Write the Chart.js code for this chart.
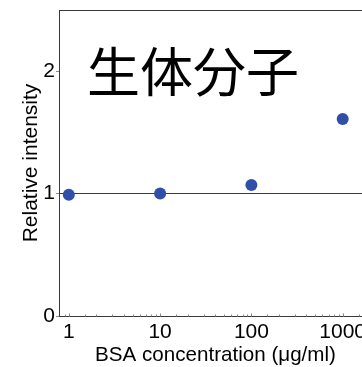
<!DOCTYPE html>
<html>
<head>
<meta charset="utf-8">
<script src="https://cdn.jsdelivr.net/npm/chart.js@4/dist/chart.umd.min.js"></script>
<style>
  html, body { margin: 0; padding: 0; background: #fff; overflow: hidden; }
  #wrap { width: 378px; height: 367px; }
</style>
</head>
<body>
<div id="wrap"><canvas id="c" width="378" height="367"></canvas></div>
<script>
// BSA concentration (µg/ml) and relative intensity
const concentrations = [1, 10, 100, 1000];
const intensities = [0.99, 1.0, 1.07, 1.61];
const yTickValues = [0, 1, 2];
const panelLabel = '生体分子';
const xTitle = 'BSA concentration (μg/ml)';
const yTitle = 'Relative intensity';

const FONT = "'Liberation Sans', Arial, sans-serif";
const AXIS = '#3a3a3a';

// frame top edge, inward minor ticks on the log axis, and the panel label
const extras = {
  id: 'extras',
  afterDraw(chart) {
    const { ctx, chartArea: a, scales: { x } } = chart;
    ctx.save();
    ctx.strokeStyle = AXIS;
    ctx.lineWidth = 1;
    ctx.beginPath();
    ctx.moveTo(a.left, Math.round(a.top) + 0.5);
    ctx.lineTo(chart.width, Math.round(a.top) + 0.5);
    ctx.stroke();

    ctx.strokeStyle = '#888';
    const yb = Math.round(a.bottom) + 0.5;
    x.ticks.forEach(t => {
      const px = Math.round(x.getPixelForValue(t.value)) + 0.5;
      if (px <= a.left + 1 || px >= a.right) return;
      const major = Math.abs(Math.log10(t.value) - Math.round(Math.log10(t.value))) < 1e-9;
      ctx.beginPath();
      ctx.moveTo(px, yb);
      ctx.lineTo(px, yb - (major ? 3 : 2));
      ctx.stroke();
    });

    ctx.fillStyle = '#000';
    ctx.font = "53px 'Noto Sans CJK JP', sans-serif";
    ctx.textAlign = 'center';
    ctx.textBaseline = 'middle';
    ctx.fillText(panelLabel, 193, 72);
    ctx.restore();
  }
};

new Chart(document.getElementById('c'), {
  type: 'scatter',
  data: {
    datasets: [{
      data: concentrations.map((c, i) => ({ x: c, y: intensities[i] })),
      backgroundColor: '#2f4fa8',
      borderColor: '#2f4fa8',
      pointRadius: 6,
      borderWidth: 0
    }]
  },
  options: {
    responsive: false,
    animation: false,
    layout: { padding: { top: 10, right: 0, left: 0, bottom: 0 } },
    plugins: { legend: { display: false }, tooltip: { enabled: false } },
    scales: {
      x: {
        type: 'logarithmic',
        min: 0.781,
        max: 2094,
        afterFit(s) { s.height = 51; s.paddingLeft = 0; s.paddingRight = 0; },
        border: { display: true, color: AXIS, width: 1 },
        grid: { display: false, drawTicks: false },
        ticks: {
          autoSkip: false,
          maxRotation: 0,
          padding: 4,
          color: '#000',
          font: { family: FONT, size: 21 },
          callback(v) {
            return concentrations.includes(v) ? String(v) : '';
          }
        },
        title: {
          display: true,
          text: xTitle,
          color: '#000',
          font: { family: FONT, size: 20.6 },
          padding: { top: 0, bottom: -1 }
        }
      },
      y: {
        min: 0,
        max: 2.5,
        afterFit(s) { s.width = 59; s.paddingTop = 0; s.paddingBottom = 0; },
        afterBuildTicks(s) { s.ticks = yTickValues.map(v => ({ value: v })); },
        border: { display: true, color: AXIS, width: 1 },
        grid: {
          drawTicks: true,
          tickLength: 3,
          color: ctx => (ctx.tick && ctx.tick.value === 1 ? AXIS : 'rgba(0,0,0,0)'),
          tickColor: '#888'
        },
        ticks: {
          padding: 1,
          color: '#000',
          font: { family: FONT, size: 21 },
          callback: v => String(v)
        },
        title: {
          display: true,
          text: yTitle,
          color: '#000',
          font: { family: FONT, size: 21 },
          padding: { top: 19, bottom: 0 }
        }
      }
    }
  },
  plugins: [extras]
});
</script>
</body>
</html>
